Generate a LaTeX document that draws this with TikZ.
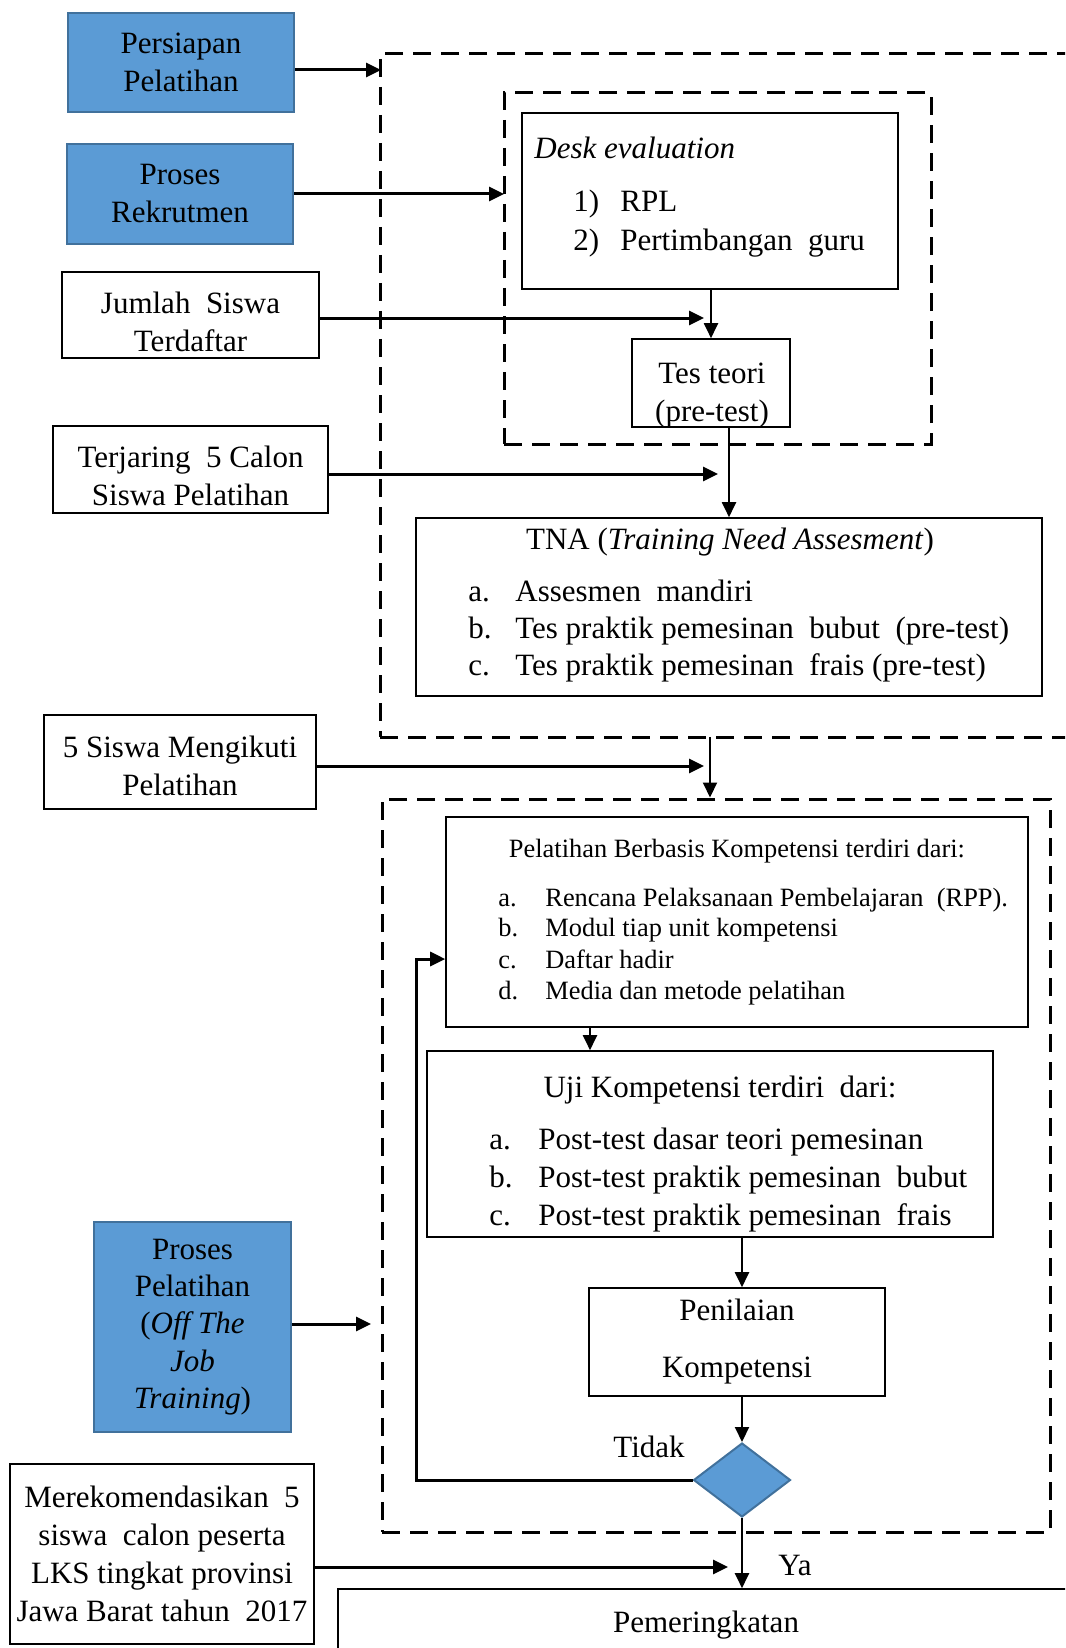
\documentclass[tikz,border=0pt]{standalone}
\usepackage{fontspec}
\setmainfont{Liberation Serif}
\usetikzlibrary{arrows.meta,shapes.geometric}
\definecolor{boxblue}{HTML}{5B9BD5}
\definecolor{boxedge}{HTML}{41719C}

\begin{document}
\begin{tikzpicture}[x=0.5pt, y=-0.5pt,
		big/.style={font=\fontsize{15.5}{19}\selectfont, inner sep=0pt},
		small/.style={font=\fontsize{13.2}{15.5}\selectfont, inner sep=0pt},
		bluebox/.style={draw=boxedge, line width=1.1pt, fill=boxblue, align=center, big},
		whitebox/.style={draw, line width=0.8pt, align=center, big},
		frame/.style={draw, line width=1.5pt, dash pattern=on 9pt off 5pt, inner sep=0pt},
		bigarrow/.style={line width=1.5pt, -{Triangle[length=7.5pt, width=7pt]}},
		arrow/.style={line width=1pt, -{Triangle[length=7.5pt, width=7pt]}}
	]
	\useasboundingbox (0,0) rectangle (1065,1648);
	\clip (0,0) rectangle (1065,1648);

	\node[frame, minimum width=360pt, minimum height=341.5pt] (outerA) at (740,395.5) {};
	\node[frame, minimum width=213.5pt, minimum height=175.5pt] (innerA) at (717.5,268.5) {};
	\node[frame, minimum width=334pt, minimum height=366.5pt] (outerB) at (716,1165.5) {};

	\node[bluebox, minimum width=113pt, minimum height=49.5pt] (persiapan) at (181,62.5) {Persiapan\\Pelatihan};
	\node[bluebox, minimum width=113pt, minimum height=50pt] (rekrutmen) at (180,194) {Proses\\Rekrutmen};
	\node[whitebox, minimum width=128.5pt, minimum height=43pt] (jumlah) at (190.5,315) {};
	\node[big, align=center] (jumlahtext) at (190.5,322) {Jumlah\ \ Siswa\\Terdaftar};
	\node[whitebox, minimum width=137.5pt, minimum height=43.5pt] (terjaring) at (190.5,469.5) {};
	\node[big, align=center] (terjaringtext) at (190.5,476) {Terjaring\ \ 5 Calon\\Siswa Pelatihan};
	\node[whitebox, minimum width=136pt, minimum height=47pt] (mengikuti) at (180,762) {};
	\node[big, align=center] (mengikutitext) at (180,766) {5 Siswa Mengikuti\\Pelatihan};
	\node[bluebox, minimum width=98.5pt, minimum height=105pt, font=\fontsize{15.5}{18.7}\selectfont] (offjob) at (192.5,1327)
		{Proses\\Pelatihan\\(\textit{Off The}\\\textit{Job}\\\textit{Training})};
	\node[whitebox, minimum width=152pt, minimum height=90pt] (rekomendasi) at (162,1554)
		{Merekomendasikan\ \ 5\\siswa\ \ calon peserta\\LKS tingkat\ provinsi\\Jawa Barat tahun\ \ 2017};

	\node[whitebox, minimum width=188pt, minimum height=88pt] (desk) at (710,201) {};
	\node[big, anchor=mid west] (deskhead) at (534,154) {\textit{Desk evaluation}};
	\node[big, anchor=mid west] (deska) at (573,207) {\makebox[23.5pt][l]{1)}RPL};
	\node[big, anchor=mid west] (deskb) at (573,246) {\makebox[23.5pt][l]{2)}Pertimbangan\ \ guru};
	\node[whitebox, minimum width=79pt, minimum height=44pt] (testeori) at (711,383) {};
	\node[big, align=center] (testeoritext) at (712,396) {Tes teori\\(pre-test)};

	\node[whitebox, minimum width=313pt, minimum height=89pt] (tna) at (729,607) {};
	\node[big] (tnahead) at (730,542) {TNA (\textit{Training Need Assesment})};
	\node[big, anchor=mid west] (tnaa) at (468,597) {\makebox[23.5pt][l]{a.}Assesmen\ \ mandiri};
	\node[big, anchor=mid west] (tnab) at (468,634) {\makebox[23.5pt][l]{b.}Tes praktik\ pemesinan\ \ bubut\ \ (pre-test)};
	\node[big, anchor=mid west] (tnac) at (468,671) {\makebox[23.5pt][l]{c.}Tes praktik\ pemesinan\ \ frais\ (pre-test)};

	\node[whitebox, minimum width=291pt, minimum height=105pt] (pbk) at (737,922) {};
	\node[small] (pbkhead) at (737,851) {Pelatihan Berbasis Kompetensi terdiri dari:};
	\node[small, anchor=mid west] (pbka) at (498,902) {\makebox[23.5pt][l]{a.}Rencana Pelaksanaan Pembelajaran\ \ (RPP).};
	\node[small, anchor=mid west] (pbkb) at (498,932) {\makebox[23.5pt][l]{b.}Modul tiap unit kompetensi};
	\node[small, anchor=mid west] (pbkc) at (498,964) {\makebox[23.5pt][l]{c.}Daftar hadir};
	\node[small, anchor=mid west] (pbkd) at (498,995) {\makebox[23.5pt][l]{d.}Media dan metode pelatihan};

	\node[whitebox, minimum width=283pt, minimum height=93pt] (uji) at (710,1144) {};
	\node[big] (ujihead) at (720,1090) {Uji Kompetensi\ terdiri\ \ dari:};
	\node[big, anchor=mid west] (ujia) at (489,1145) {\makebox[24.5pt][l]{a.}Post-test dasar teori pemesinan};
	\node[big, anchor=mid west] (ujib) at (489,1183) {\makebox[24.5pt][l]{b.}Post-test praktik pemesinan\ \ bubut};
	\node[big, anchor=mid west] (ujic) at (489,1221) {\makebox[24.5pt][l]{c.}Post-test praktik pemesinan\ \ frais};

	\node[whitebox, minimum width=148pt, minimum height=54pt, font=\fontsize{15.5}{28.5}\selectfont] (penilaian) at (737,1342) {Penilaian\\Kompetensi};
	\node[diamond, draw=boxedge, line width=1pt, fill=boxblue, inner sep=0pt,
		minimum width=48.5pt, minimum height=37pt] (dec) at (742,1480) {};
	\node[whitebox, minimum width=381pt, minimum height=55.5pt] (rank) at (719,1644.5) {};
	\node[big] (ranktext) at (706,1625) {Pemeringkatan};
	\node[big] (tidak) at (649,1447) {Tidak};
	\node[big] (ya) at (795,1565) {Ya};

	\coordinate (inA) at (381,70);
	\coordinate (inB) at (504,194);
	\coordinate (inC) at (704,318);
	\coordinate (inD) at (718,474);
	\coordinate (inE) at (704,766);
	\coordinate (inF) at (371,1324);
	\coordinate (inG) at (728,1567);
	\coordinate (drop) at (710,737);
	\coordinate (back) at (416,959);

	\draw[bigarrow] (persiapan.east |- inA) -- (inA);
	\draw[bigarrow] (rekrutmen.east |- inB) -- (inB);
	\draw[bigarrow] (jumlah.east |- inC) -- (inC);
	\draw[bigarrow] (terjaring.east |- inD) -- (inD);
	\draw[bigarrow] (mengikuti.east |- inE) -- (inE);
	\draw[bigarrow] (offjob.east |- inF) -- (inF);
	\draw[bigarrow] (rekomendasi.east |- inG) -- (inG);

	\draw[arrow] (desk.south -| testeori.north) -- (testeori.north);
	\draw[arrow] (testeori.south -| tna.north) -- (tna.north);
	\draw[arrow] (drop) -- (drop |- outerB.north);
	\draw[arrow] (pbk.south -| 590,0) -- (uji.north -| 590,0);
	\draw[arrow] (uji.south -| dec.north) -- (penilaian.north -| dec.north);
	\draw[arrow] (penilaian.south -| dec.north) -- (dec.north);
	\draw[arrow] (dec.south) -- (rank.north -| dec.south);
	\draw[bigarrow] (dec.west) -| (back) -- (back -| pbk.west);
\end{tikzpicture}
\end{document}
